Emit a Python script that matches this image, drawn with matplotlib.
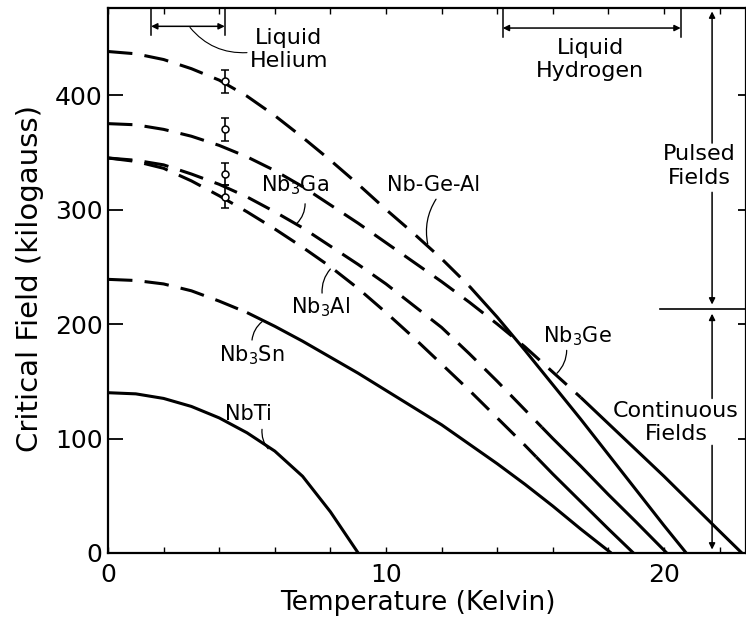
import numpy as np
import matplotlib
matplotlib.use("Agg")
import matplotlib.pyplot as plt

# ---- curves: temperature (K) -> critical field (kG) ----
# each curve is dashed (extrapolated) up to *_solid and solid after it
ngeal_T = [0, 1, 2, 3, 4, 5, 6, 7, 8, 9, 10, 11, 12, 13, 14, 15, 16, 17, 18, 19, 20, 20.8]
ngeal_H = [438, 436, 431, 423, 413, 399, 382, 363, 343, 322, 300, 279, 257, 233, 206,
           177, 147, 117, 86, 55, 24, 0]
ngeal_solid = 13

nb3ge_T = [0, 1, 2, 3, 4, 5, 6, 7, 8, 9, 10, 11, 12, 13, 14, 15, 16, 17, 18, 19, 20, 21,
           22, 22.8]
nb3ge_H = [375, 374, 370, 364, 356, 346, 334, 320, 304, 288, 271, 254, 237, 219, 200,
           180, 158, 136, 113, 90, 67, 43, 19, 0]
nb3ge_solid = 17

nb3ga_T = [0, 1, 2, 3, 4, 5, 6, 7, 8, 9, 10, 11, 12, 13, 14, 15, 15.6, 16, 17, 18, 19,
           20.1]
nb3ga_H = [345, 343, 339, 331, 322, 311, 298, 284, 268, 252, 235, 216, 197, 174, 150,
           125, 110, 100, 76, 51, 27, 0]
nb3ga_solid = 15.6

nb3al_T = [0, 1, 2, 3, 4, 5, 6, 7, 8, 9, 10, 11, 12, 13, 14, 15, 15.4, 16, 17, 18, 18.9]
nb3al_H = [345, 342, 336, 325, 312, 298, 283, 267, 250, 231, 210, 188, 165, 142, 118,
           94, 84, 69, 45, 21, 0]
nb3al_solid = 15.4

nb3sn_T = [0, 1, 2, 3, 4, 5, 6, 7, 8, 9, 10, 11, 12, 13, 14, 15, 16, 17, 18.1]
nb3sn_H = [239, 238, 235, 229, 220, 210, 198, 185, 171, 157, 142, 127, 112, 95, 78, 60,
           41, 21, 0]
nb3sn_solid = 5

nbti_T = [0, 1, 2, 3, 4, 5, 6, 7, 8, 9]
nbti_H = [140, 139, 135, 128, 118, 105, 89, 67, 36, 0]
nbti_solid = 0

# measured points at liquid helium temperature
pts_T = [4.2, 4.2, 4.2, 4.2]
pts_H = [412, 370, 331, 311]
pts_err = [10, 10, 10, 10]

x_ticks = [0, 2, 4, 6, 8, 10, 12, 14, 16, 18, 20, 22]
x_labels = ["0", "", "", "", "", "10", "", "", "", "", "20", ""]
y_ticks = [0, 100, 200, 300, 400]
y_labels = ["0", "100", "200", "300", "400"]

# ---- figure ----
fig = plt.figure(figsize=(7.46, 6.21), dpi=100)
ax = fig.add_axes([108 / 746, 68 / 621, 638 / 746, 545 / 621])
ax.set_xlim(0, 22.95)
ax.set_ylim(0, 476)

LW = 2.2
DASH = (0, (8, 4))


def draw_curve(T, H, solid_from):
    T = np.asarray(T, dtype=float)
    H = np.asarray(H, dtype=float)
    k = int(np.searchsorted(T, solid_from))
    if k > 0:
        ax.plot(T[:k + 1], H[:k + 1], color="black", lw=LW, ls=DASH,
                dash_capstyle="butt", dash_joinstyle="round")
    ax.plot(T[k:], H[k:], color="black", lw=LW, ls="-",
            solid_capstyle="butt", solid_joinstyle="round")


draw_curve(ngeal_T, ngeal_H, ngeal_solid)
draw_curve(nb3ge_T, nb3ge_H, nb3ge_solid)
draw_curve(nb3ga_T, nb3ga_H, nb3ga_solid)
draw_curve(nb3al_T, nb3al_H, nb3al_solid)
draw_curve(nb3sn_T, nb3sn_H, nb3sn_solid)
draw_curve(nbti_T, nbti_H, nbti_solid)

ax.errorbar(pts_T, pts_H, yerr=pts_err, fmt="o", ms=5, mfc="white", mec="black",
            mew=1.1, ecolor="black", elinewidth=1.2, capsize=3, capthick=1.2, zorder=5)

# ---- axes styling ----
for s in ax.spines.values():
    s.set_linewidth(1.6)
ax.set_xticks(x_ticks)
ax.set_xticklabels(x_labels)
ax.set_yticks(y_ticks)
ax.set_yticklabels(y_labels)
ax.tick_params(axis="x", direction="in", top=True, length=4.5, width=1,
               labelsize=18, pad=7)
ax.tick_params(axis="y", direction="in", right=True, length=11, width=1.3,
               labelsize=18, pad=4)
for t in ax.yaxis.get_major_ticks():
    t.tick2line.set_markersize(6)

fig.text(418 / 746, 1 - 603 / 621, "Temperature (Kelvin)", fontsize=19,
         ha="center", va="center")
fig.text(30 / 746, 1 - 278 / 621, "Critical Field (kilogauss)", fontsize=21,
         ha="center", va="center", rotation=90)

# ---- cryogen brackets ----
thin = dict(color="black", lw=1.1)
for tx in (1.55, 4.2):
    ax.plot([tx, tx], [476, 452], **thin)
ax.annotate("", xy=(1.55, 460), xytext=(4.2, 460),
            arrowprops=dict(arrowstyle="<|-|>", color="black", lw=1.1,
                            mutation_scale=9, shrinkA=0, shrinkB=0))
ax.annotate("", xy=(2.95, 459), xytext=(5.0, 437),
            arrowprops=dict(arrowstyle="-", color="black", lw=0.8,
                            connectionstyle="arc3,rad=-0.25", shrinkA=0, shrinkB=0))
ax.text(6.5, 440, "Liquid\nHelium", fontsize=16, ha="center", va="center",
        linespacing=1.2)

for tx in (14.2, 20.6):
    ax.plot([tx, tx], [476, 451], **thin)
ax.annotate("", xy=(14.2, 458.5), xytext=(20.6, 458.5),
            arrowprops=dict(arrowstyle="<|-|>", color="black", lw=1.1,
                            mutation_scale=9, shrinkA=0, shrinkB=0))
ax.text(17.34, 431, "Liquid\nHydrogen", fontsize=16, ha="center", va="center",
        linespacing=1.2)

# ---- pulsed / continuous field ranges ----
vx = 21.73
arr = dict(arrowstyle="-|>", color="black", lw=1.1, mutation_scale=9,
           shrinkA=0, shrinkB=0)
ax.annotate("", xy=(vx, 473), xytext=(vx, 358), arrowprops=arr)
ax.annotate("", xy=(vx, 217), xytext=(vx, 315), arrowprops=arr)
ax.annotate("", xy=(vx, 209), xytext=(vx, 135), arrowprops=arr)
ax.annotate("", xy=(vx, 3), xytext=(vx, 94), arrowprops=arr)
ax.plot([19.86, 22.95], [213, 213], color="black", lw=1.2)
ax.text(21.26, 338, "Pulsed\nFields", fontsize=16, ha="center", va="center",
        linespacing=1.2)
ax.text(20.43, 114, "Continuous\nFields", fontsize=16, ha="center", va="center",
        linespacing=1.2)

# ---- curve labels with leader lines ----
labels = [
    ("Nb-Ge-Al", (11.7, 321), (11.8, 309), (11.5, 270), 0.2),
    ("Nb$_3$Ga", (6.73, 321), (7.09, 305), (6.8, 288), -0.2),
    ("Nb$_3$Al", (7.63, 215), (7.7, 227), (8.0, 248), -0.2),
    ("Nb$_3$Sn", (5.18, 173), (5.18, 186), (5.54, 202), -0.2),
    ("Nb$_3$Ge", (16.9, 189), (16.5, 177), (16.15, 157), -0.2),
    ("NbTi", (5.04, 121), (5.54, 108), (5.76, 91), 0.2),
]
for txt, pos, start, end, rad in labels:
    ax.text(pos[0], pos[1], txt, fontsize=15, ha="center", va="center")
    ax.annotate("", xy=end, xytext=start,
                arrowprops=dict(arrowstyle="-", color="black", lw=0.9,
                                connectionstyle=f"arc3,rad={rad}",
                                shrinkA=0, shrinkB=0))

fig.savefig("out.png", dpi=100)
